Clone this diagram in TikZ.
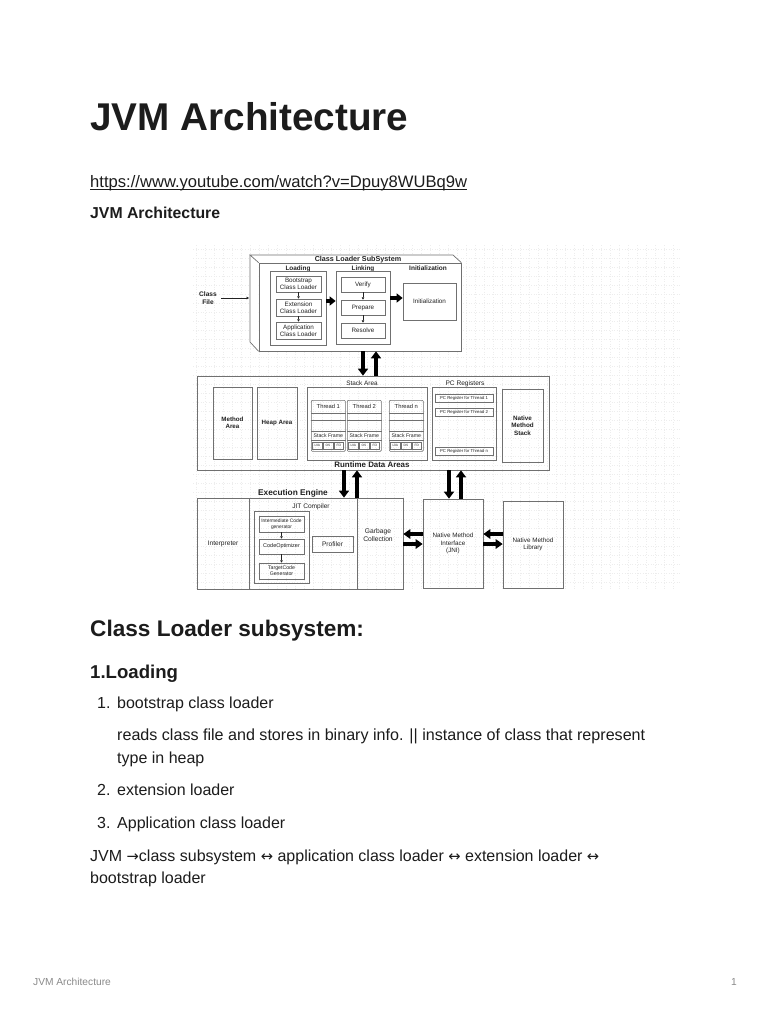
\documentclass[tikz,border=0pt]{standalone}
\usepackage{fontspec}
\setmainfont{Liberation Sans}
\newfontfamily\arrowfont[Scale=0.92]{DejaVu Sans}
\usetikzlibrary{arrows.meta,calc}
\definecolor{ink}{HTML}{1C1C1C}
\definecolor{boxgray}{HTML}{707070}
\definecolor{dtext}{HTML}{222222}
\definecolor{gridc}{HTML}{EDEDED}
\definecolor{foot}{HTML}{8A8A8A}
\newcommand{\fs}[2]{\fontsize{#1bp}{#2bp}\selectfont}
\newcommand{\tcol}[3]{%
  \node[bx, rounded corners=1bp, minimum width=34bp, minimum height=51bp, anchor=north west] (#1) at (#2,400) {};
  \draw[boxgray, line width=0.5bp] ($(#1.north west)+(0,13)$) -- ($(#1.north east)+(0,13)$);
  \draw[boxgray, line width=0.5bp] ($(#1.north west)+(0,20)$) -- ($(#1.north east)+(0,20)$);
  \draw[boxgray, line width=0.5bp] ($(#1.north west)+(0,31)$) -- ($(#1.north east)+(0,31)$);
  \draw[boxgray, line width=0.5bp] ($(#1.north west)+(0,40)$) -- ($(#1.north east)+(0,40)$);
  \node[lbl, font=\fs{5.8}{6.5}] (#1h) at ($(#1.north)+(0,6.5)$) {#3};
  \node[lbl, font=\fs{5.2}{6}] (#1s) at ($(#1.north)+(0,35.5)$) {Stack Frame};
  \node[bx, line width=0.45bp, minimum width=9.5bp, minimum height=7bp, font=\fs{3.2}{3.5}] (#1a) at ($(#1.north west)+(6.3,45.5)$) {LVA};
  \node[bx, line width=0.45bp, minimum width=9.5bp, minimum height=7bp, font=\fs{3.2}{3.5}] (#1b) at ($(#1.north west)+(17,45.5)$) {OS};
  \node[bx, line width=0.45bp, minimum width=9.5bp, minimum height=7bp, font=\fs{3.2}{3.5}] (#1c) at ($(#1.north west)+(27.7,45.5)$) {FD};
}
\begin{document}
\begin{tikzpicture}[x=1bp,y=-1bp,
  txt/.style={anchor=base west, inner sep=0, text=ink},
  bx/.style={draw=boxgray, line width=0.7bp, inner sep=0, align=center, text=dtext, font=\fs{6.3}{7}},
  lbl/.style={inner sep=0, align=center, text=dtext},
  thinarrow/.style={draw=dtext, line width=0.55bp, -{Triangle[length=2.4bp,width=2.6bp]}},
  fatarrow/.style={draw=black, line width=3.6bp, -{Triangle[length=7bp,width=10bp]}},
  gridline/.style={draw=gridc, line width=0.35bp, dash pattern=on 0.4bp off 2.2bp},
]
\fill[white] (0,0) rectangle (768,1024);
\useasboundingbox (0,0) rectangle (768,1024);

% ---------------- document text ----------------
\node[txt, font=\fs{38.7}{44}\bfseries] (title) at (90,130) {JVM Architecture};
\node[txt, font=\fs{16.6}{19}] (url) at (90,187) {https://www.youtube.com/watch?v=Dpuy8WUBq9w};
\draw[ink, line width=0.9bp] ($(url.base west)+(0,2.6)$) -- ($(url.base east)+(0,2.6)$);
\node[txt, font=\fs{15.8}{19}\bfseries] (sub) at (90,218) {JVM Architecture};

\node[txt, font=\fs{22.6}{26}\bfseries] (h2) at (90,636) {Class Loader subsystem:};
\node[txt, font=\fs{18.6}{22}\bfseries] (h3) at (90,678) {1.Loading};
\node[txt, font=\fs{16}{19}] (n1) at (97,708) {1.};
\node[txt, font=\fs{16}{19}] (i1) at (117,708) {bootstrap class loader};
\node[txt, font=\fs{16.1}{19}] (p1) at (117,740) {reads class file and stores in binary info. || instance of class that represent};
\node[txt, font=\fs{16}{19}] (p2) at (117,763) {type in heap};
\node[txt, font=\fs{16}{19}] (n2) at (97,795) {2.};
\node[txt, font=\fs{16}{19}] (i2) at (117,795) {extension loader};
\node[txt, font=\fs{16}{19}] (n3) at (97,828) {3.};
\node[txt, font=\fs{16}{19}] (i3) at (117,828) {Application class loader};
\node[txt, font=\fs{16}{19}] (q1) at (90,861) {JVM {\arrowfont →}class subsystem {\arrowfont ↔} application class loader {\arrowfont ↔} extension loader {\arrowfont ↔}};
\node[txt, font=\fs{16}{19}] (q2) at (90,883) {bootstrap loader};

\node[txt, text=foot, font=\fs{10.2}{12}] (foot) at (33,985) {JVM Architecture};
\node[txt, text=foot, font=\fs{10.2}{12}] (page) at (731,985) {1};

% ---------------- diagram background grid ----------------
\foreach \gy in {249,258,...,588} \draw[gridline] (193,\gy) -- (680,\gy);
\foreach \gx in {196,205,...,680} \draw[gridline] (\gx,245) -- (\gx,590);

% ---------------- Class Loader SubSystem ----------------
\node[bx, fill=white, minimum width=202bp, minimum height=88bp] (cls) at (360,307) {};
\coordinate (bnw) at (250,255);
\coordinate (bne) at (453,255);
\coordinate (bsw) at (250,342);
\fill[white] (bnw) -- (bne) -- (cls.north east) -- (cls.north west) -- cycle;
\fill[white] (bnw) -- (cls.north west) -- (cls.south west) -- (bsw) -- cycle;
\draw[boxgray, line width=0.7bp] (cls.north west) -- (bnw) -- (bne) -- (cls.north east);
\draw[boxgray, line width=0.7bp] (bnw) -- (bsw) -- (cls.south west);
\node[lbl, anchor=base, font=\fs{7.2}{8}\bfseries] (clst) at (358,261) {Class Loader SubSystem};

\node[lbl, font=\fs{6.6}{7.5}\bfseries] (cfile) at (208,298) {Class\\File};
\coordinate (bk) at (249,298);
\draw[thinarrow] ([xshift=4bp]cfile.east) -- (bk);

\node[lbl, anchor=base, font=\fs{6.4}{7}\bfseries] (loadl) at (298,270.5) {Loading};
\node[bx, minimum width=56bp, minimum height=74bp] (load) at (298,308) {};
\node[bx, minimum width=45bp, minimum height=16bp] (boot) at (298.5,284) {Bootstrap\\Class Loader};
\node[bx, minimum width=45bp, minimum height=17bp] (ext) at (298.5,307.5) {Extension\\Class Loader};
\node[bx, minimum width=45bp, minimum height=17bp] (app) at (298.5,330.5) {Application\\Class Loader};
\draw[thinarrow] (boot) -- (ext);
\draw[thinarrow] (ext) -- (app);

\node[lbl, anchor=base, font=\fs{6.4}{7}\bfseries] (linkl) at (363,270.5) {Linking};
\node[bx, minimum width=54bp, minimum height=73bp] (link) at (363,307.5) {};
\node[bx, minimum width=44bp, minimum height=15bp] (ver) at (363,284.5) {Verify};
\node[bx, minimum width=44bp, minimum height=15bp] (prep) at (363,307.5) {Prepare};
\node[bx, minimum width=44bp, minimum height=15bp] (res) at (363,330.5) {Resolve};
\draw[thinarrow] (ver) -- (prep);
\draw[thinarrow] (prep) -- (res);

\node[lbl, anchor=base, font=\fs{6.5}{7}\bfseries] (initl) at (428,270) {Initialization};
\node[bx, minimum width=53bp, minimum height=37bp] (init) at (429.5,301.5) {Initialization};

\coordinate (la) at ($(load.east)+(0,-7)$);
\coordinate (lb) at ($(link.west)+(0,-6.5)$);
\draw[fatarrow, -{Triangle[length=6bp,width=9bp]}] (la) -- (lb);
\coordinate (lc) at ($(link.east)+(0,-9.5)$);
\draw[fatarrow, -{Triangle[length=6bp,width=9bp]}] (lc) -- (lc -| init.west);

% ---------------- Runtime Data Areas ----------------
\node[bx, minimum width=352bp, minimum height=94bp] (rda) at (373,423) {};
\node[lbl, font=\fs{7.9}{9}\bfseries] (rdal) at (372,465) {Runtime Data Areas};

\coordinate (c1) at ([xshift=3bp]cls.south);
\coordinate (c2) at ([xshift=16bp]cls.south);
\draw[fatarrow] (c1) -- (c1 |- rda.north);
\draw[fatarrow] (c2 |- rda.north) -- (c2);

\node[bx, font=\fs{6.2}{7}\bfseries, minimum width=39bp, minimum height=72bp] (meth) at (232.5,423) {Method\\Area};
\node[bx, font=\fs{6.2}{7}\bfseries, minimum width=40bp, minimum height=72bp] (heap) at (277,423) {Heap Area};

\node[lbl, font=\fs{6.4}{7}] (stackl) at (362,383) {Stack Area};
\node[bx, minimum width=120bp, minimum height=73bp] (stack) at (367,423.5) {};
\tcol{t1}{311}{Thread 1}
\tcol{t2}{347}{Thread 2}
\tcol{tn}{389}{Thread n}

\node[lbl, font=\fs{6.6}{7}] (pcl) at (465,384) {PC Registers};
\node[bx, minimum width=64bp, minimum height=73bp] (pc) at (464,423.5) {};
\node[bx, line width=0.55bp, font=\fs{4.3}{5}, minimum width=58bp, minimum height=8bp] (pc1) at (464,398) {PC Register for Thread 1};
\node[bx, line width=0.55bp, font=\fs{4.3}{5}, minimum width=58bp, minimum height=8.5bp] (pc2) at (464,412.5) {PC Register for Thread 2};
\node[bx, line width=0.55bp, font=\fs{4.3}{5}, minimum width=58bp, minimum height=8.5bp] (pcn) at (464,451.5) {PC Register for Thread n};

\node[bx, font=\fs{6.3}{7.3}\bfseries, minimum width=41bp, minimum height=73bp] (nms) at (522.5,425.5) {Native\\Method\\Stack};

% ---------------- Execution Engine ----------------
\node[lbl, font=\fs{8.3}{9}\bfseries] (eel) at (293,493) {Execution Engine};
\node[bx, font=\fs{6.6}{7.5}, minimum width=52bp, minimum height=91bp] (interp) at (223,543.5) {Interpreter};
\node[bx, minimum width=108bp, minimum height=91bp] (jit) at (303,543.5) {};
\node[bx, font=\fs{6.6}{7.6}, minimum width=46bp, minimum height=91bp] (gc) at (380,543.5) {};
\node[lbl, font=\fs{6.7}{7.6}] (gct) at (378,535) {Garbage\\Collection};

\node[lbl, font=\fs{6.6}{7.5}] (jitl) at (311,507) {JIT Compiler};
\node[bx, minimum width=55bp, minimum height=72bp] (jitin) at (281.5,547) {};
\node[bx, font=\fs{4.9}{6}, minimum width=45bp, minimum height=16bp] (icg) at (281.5,524) {Intermediate Code\\generator};
\node[bx, font=\fs{5.5}{6}, minimum width=45bp, minimum height=15bp] (copt) at (281.5,546.5) {CodeOptimizer};
\node[bx, font=\fs{5.2}{6}, minimum width=45bp, minimum height=16bp] (tcg) at (281.5,571) {TargetCode\\Generator};
\draw[thinarrow] (icg) -- (copt);
\draw[thinarrow] (copt) -- (tcg);
\node[bx, font=\fs{6.6}{7.5}, minimum width=41bp, minimum height=16bp] (prof) at (332.5,544) {Profiler};

\node[bx, font=\fs{6.3}{7.6}, minimum width=60bp, minimum height=89bp] (jni) at (453,543.5) {Native Method\\Interface\\(JNI)};
\node[bx, font=\fs{6.3}{7.6}, minimum width=60bp, minimum height=87bp] (nml) at (533,544.5) {Native Method\\Library};

\coordinate (e1) at (344,0);
\coordinate (e2) at (357,0);
\draw[fatarrow] (e1 |- rda.south) -- (e1 |- jit.north);
\draw[fatarrow] (e2 |- jit.north) -- (e2 |- rda.south);
\coordinate (j1) at ([xshift=-4bp]jni.north);
\coordinate (j2) at ([xshift=8bp]jni.north);
\draw[fatarrow] (j1 |- rda.south) -- (j1);
\draw[fatarrow] (j2) -- (j2 |- rda.south);

\coordinate (g1) at ($(jni.west)+(0,-9.5)$);
\coordinate (g2) at ($(jni.west)+(0,0.5)$);
\draw[fatarrow, -{Triangle[length=7bp,width=9.5bp]}] (g1) -- (g1 -| gc.east);
\draw[fatarrow, -{Triangle[length=7bp,width=9.5bp]}] (g2 -| gc.east) -- (g2);
\coordinate (k1) at ($(nml.west)+(0,-10.5)$);
\coordinate (k2) at ($(nml.west)+(0,-0.5)$);
\draw[fatarrow, -{Triangle[length=7bp,width=9.5bp]}] (k1) -- (k1 -| jni.east);
\draw[fatarrow, -{Triangle[length=7bp,width=9.5bp]}] (k2 -| jni.east) -- (k2);
\end{tikzpicture}
\end{document}
